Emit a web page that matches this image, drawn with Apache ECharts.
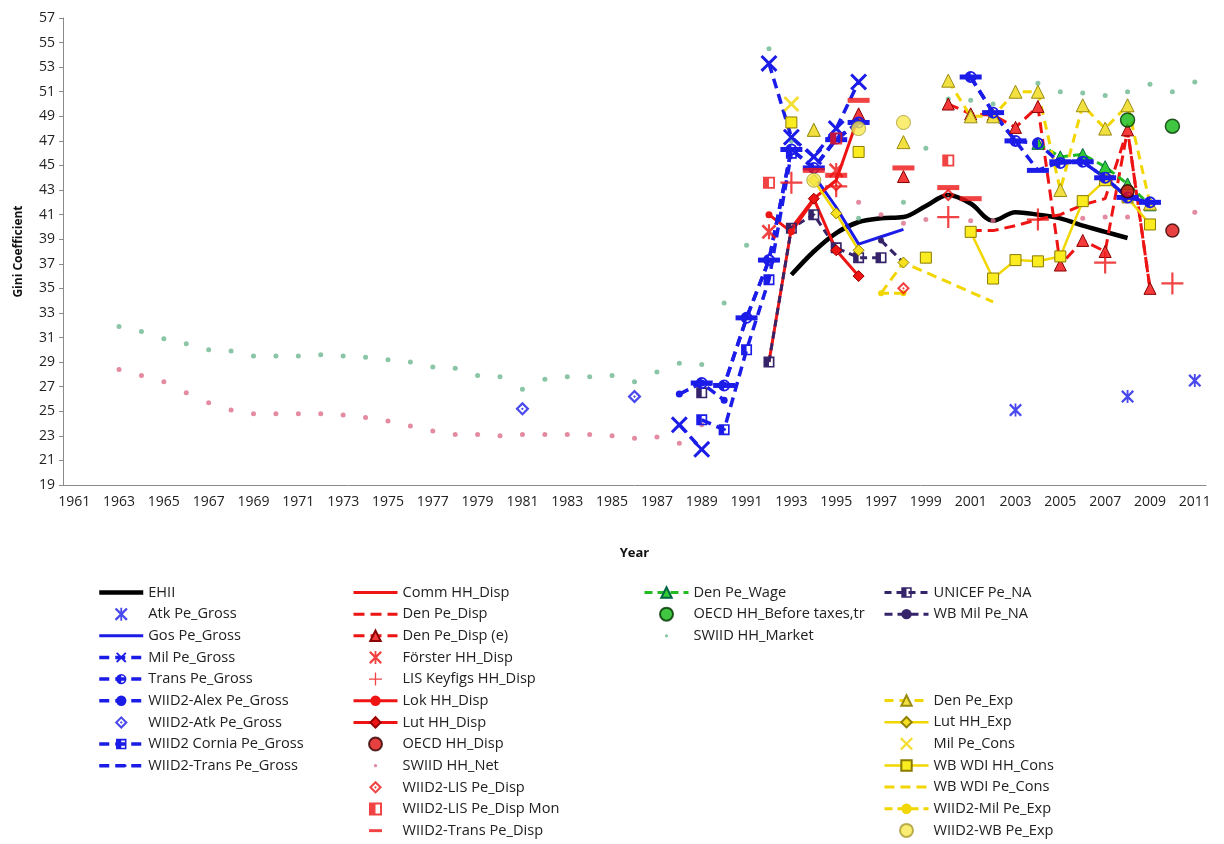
<!DOCTYPE html>
<html><head><meta charset="utf-8">
<script src="https://cdn.jsdelivr.net/npm/echarts@6/dist/echarts.min.js"></script>
<style>html,body{margin:0;padding:0;background:#fff}#c{width:1224px;height:844px}</style>
</head><body><div id="c"></div>
<script>
// ---------- categories & tick labels ----------
const years = ['1961','1962','1963','1964','1965','1966','1967','1968','1969','1970','1971','1972','1973','1974','1975','1976','1977','1978','1979','1980','1981','1982','1983','1984','1985','1986','1987','1988','1989','1990','1991','1992','1993','1994','1995','1996','1997','1998','1999','2000','2001','2002','2003','2004','2005','2006','2007','2008','2009','2010','2011'];
const yTicks = [19,21,23,25,27,29,31,33,35,37,39,41,43,45,47,49,51,53,55,57];

// ---------- series values ([year, Gini]) ----------
const ehii = [[1993,36.1],[1994,38.0],[1995,39.5],[1996,40.4],[1997,40.7],[1998,40.8],[1999,41.7],[2000,42.6],[2001,41.9],[2002,40.5],[2003,41.2],[2004,41.0],[2005,40.7],[2006,40.1],[2007,39.6],[2008,39.1]];
const atkGross = [[2003,25.1],[2008,26.2],[2011,27.5]];
const gosGross = [[1994,44.2],[1995,41.6],[1996,38.6],[1997,39.2],[1998,39.8]];
const milGross = [[1988,23.9],[1989,21.9],[1992,53.3],[1993,47.3],[1994,45.7],[1995,48.0],[1996,51.8]];
const transGross = [[1989,27.3],[1990,27.1],[1991,32.6],[1992,37.3],[1993,46.3],[1994,44.8],[1995,47.2],[1996,48.5],[2001,52.2],[2002,49.3],[2003,47.0],[2004,46.8],[2005,45.2],[2006,45.3],[2007,44.0],[2008,42.4],[2009,42.0]];
const wiidAlexGross = [[1988,26.4],[1989,27.3],[1990,25.9]];
const wiidAtkGross = [[1981,25.2],[1986,26.2]];
const wiidCorniaGross = [[1989,24.3],[1990,23.5],[1991,30.0],[1992,35.7],[1993,46.0]];
const wiidTransGross = [[1989,27.3],[1990,27.1],[1991,32.6],[1992,37.3],[1993,46.3],[1994,44.8],[1995,47.1],[1996,48.5],[2001,52.2],[2002,49.3],[2003,47.0],[2004,44.6],[2005,45.3],[2006,45.3],[2007,44.0],[2008,42.4],[2009,42.0]];
const commDisp = [[1992,29.0],[1993,39.9],[1994,42.3],[1995,43.8],[1996,49.0]];
const denDisp = [[2001,39.7],[2002,39.7],[2003,40.1],[2004,40.6],[2005,41.0],[2006,41.8],[2007,42.3],[2008,47.9],[2009,35.0]];
const denDispE = [[1996,49.2],[1998,44.1],[2000,50.0],[2001,49.2],[2002,49.1],[2003,48.1],[2004,49.8],[2005,36.9],[2006,38.9],[2007,38.0],[2008,47.9],[2009,35.0]];
const forster = [[1992,39.6],[1995,44.6]];
const lisKeyfigs = [[1993,43.6],[1995,43.3],[2000,40.8],[2004,40.6],[2007,37.1],[2010,35.4]];
const lokDisp = [[1992,41.0],[1993,39.6],[1994,42.2]];
const lutDisp = [[1994,42.3],[1995,38.1],[1996,36.0]];
const oecdDisp = [[2008,42.9],[2010,39.7]];
const swiidNet = [[1963,28.4],[1964,27.9],[1965,27.4],[1966,26.5],[1967,25.7],[1968,25.1],[1969,24.8],[1970,24.8],[1971,24.8],[1972,24.8],[1973,24.7],[1974,24.5],[1975,24.2],[1976,23.8],[1977,23.4],[1978,23.1],[1979,23.1],[1980,23.0],[1981,23.1],[1982,23.1],[1983,23.1],[1984,23.1],[1985,23.0],[1986,22.8],[1987,22.9],[1988,22.4],[1989,23.9],[1996,42.0],[1997,41.0],[1998,40.3],[1999,40.6],[2001,40.5],[2002,40.5],[2006,40.7],[2007,40.8],[2008,40.8],[2011,41.2]];
const wiidLisDisp = [[1995,43.4],[1998,35.0],[2000,42.6]];
const wiidLisDispMon = [[1992,43.6],[1995,47.2],[2000,45.4]];
const wiidTransDisp = [[1994,44.6],[1995,44.2],[1996,50.3],[1998,44.8],[2000,43.2],[2001,42.3]];
const denWage = [[1994,47.9],[2004,46.8],[2005,45.7],[2006,45.9],[2007,44.9],[2008,43.5],[2009,41.8]];
const oecdBefore = [[2008,48.7],[2010,48.2]];
const swiidMarket = [[1963,31.9],[1964,31.5],[1965,30.9],[1966,30.5],[1967,30.0],[1968,29.9],[1969,29.5],[1970,29.5],[1971,29.5],[1972,29.6],[1973,29.5],[1974,29.4],[1975,29.2],[1976,29.0],[1977,28.6],[1978,28.5],[1979,27.9],[1980,27.8],[1981,26.8],[1982,27.6],[1983,27.8],[1984,27.8],[1985,27.9],[1986,27.4],[1987,28.2],[1988,28.9],[1989,28.8],[1990,33.8],[1991,38.5],[1992,54.5],[1993,47.0],[1996,40.7],[1998,42.0],[1999,46.4],[2000,50.4],[2001,50.3],[2002,50.0],[2003,51.0],[2004,51.7],[2005,51.0],[2006,50.9],[2007,50.7],[2008,51.0],[2009,51.6],[2010,51.0],[2011,51.8]];
const unicefNA = [[1989,26.5],[1992,29.0],[1993,39.9],[1994,41.0],[1995,38.3],[1996,37.5],[1997,37.5]];
const wbMilNA = [[1997,38.9],[1998,37.1]];
const denExp = [[1994,47.9],[1998,46.9],[2000,51.9],[2001,49.0],[2002,49.0],[2003,51.0],[2004,51.0],[2005,43.0],[2006,49.9],[2007,48.0],[2008,49.9],[2009,41.9]];
const lutExp = [[1994,43.8],[1995,41.1],[1996,38.1],[1998,37.1]];
const milCons = [[1993,50.0]];
const wdiHHCons = [[1993,48.5],[1996,46.1],[1999,37.5],[2001,39.6],[2002,35.8],[2003,37.3],[2004,37.2],[2005,37.6],[2006,42.1],[2007,43.8],[2008,42.4],[2009,40.2]];
const wdiPeCons = [[1997,34.6],[1998,37.1],[2002,33.9]];
const wiidMilExp = [[1997,34.6],[1998,34.6]];
const wiidWBExp = [[1994,43.8],[1996,48.0],[1998,48.5]];

// ---------- helpers ----------
function expand(pairs){ const m = {}; pairs.forEach(p => { m[String(p[0])] = p[1]; }); return years.map(y => (y in m) ? m[y] : '-'); }
const FONT = 'Open Sans';
const SYM = {
  x: 'path://M0,2.5L2.5,0L10,7.5L17.5,0L20,2.5L12.5,10L20,17.5L17.5,20L10,12.5L2.5,20L0,17.5L7.5,10Z',
  star: 'path://M0,2.5L2.5,0L10,7.5L17.5,0L20,2.5L12.5,10L20,17.5L17.5,20L10,12.5L2.5,20L0,17.5L7.5,10Z M8.6,0H11.4V20H8.6Z',
  plus: 'path://M9,0H11V9H20V11H11V20H9V11H0V9H9Z',
  halfSq: 'path://M0,0H20V20H0Z M3,3V17H17V3Z M3,3H10V17H3Z',
  halfCirc: 'path://M10,0A10,10 0 0,1 10,20A10,10 0 0,1 10,0Z M10,3A7,7 0 0,0 10,17A7,7 0 0,0 10,3Z M10,17A7,7 0 0,1 10,3Z',
  hollowDia: 'path://M10,0L20,10L10,20L0,10Z M10,4.5L4.5,10L10,15.5L15.5,10Z M10,8L12,10L10,12L8,10Z',
  diamond: 'path://M10,0L20,10L10,20L0,10Z',
  dot: 'path://M0,0M16,16M6,8A2,2 0 1,1 10,8A2,2 0 1,1 6,8Z',
  dash: 'path://M0,0M22,22M0,8.5H22V13.5H0Z'
};
const BLUE = '#1c1ce8', RED = '#ee1414', YEL = '#f2d600', PURP = '#36246a', GRN = '#22bb22';
function mk(name, pairs, o){
  const s = { name: name, data: expand(pairs), type: o.scatter ? 'scatter' : 'line',
    symbol: o.symbol || 'none', symbolSize: o.size || 10, symbolKeepAspect: true,
    itemStyle: o.item || { color: o.color, opacity: o.symbol ? 1 : 0 }, z: o.z || 2, animation: false,
    emphasis: { disabled: true } };
  if (!o.scatter) {
    s.lineStyle = { color: o.color, width: o.width || 3, type: o.dash ? o.dash : 'solid' };
    s.showAllSymbol = true;
    s.connectNulls = !!o.connect;
    if (o.smooth) s.smooth = o.smooth;
  }
  return s;
}
const D = [10, 6];
const series = [
  mk('SWIID HH_Market', swiidMarket, {scatter:true, symbol:SYM.dot, size:20, item:{color:'#6db78f'}}),
  mk('SWIID HH_Net', swiidNet, {scatter:true, symbol:SYM.dot, size:20, item:{color:'#dc6f8a'}}),
  mk('EHII', ehii, {color:'#000', width:4.5, smooth:0.35}),
  mk('Atk Pe_Gross', atkGross, {scatter:true, symbol:SYM.star, size:13, item:{color:BLUE}}),
  mk('Gos Pe_Gross', gosGross, {color:BLUE, width:3}),
  mk('Comm HH_Disp', commDisp, {color:RED, width:3}),
  mk('UNICEF Pe_NA', unicefNA, {color:PURP, width:3, dash:[7,5], symbol:SYM.halfSq, size:11, item:{color:PURP}}),
  mk('WB Mil Pe_NA', wbMilNA, {color:PURP, width:3, dash:[8,5], symbol:'circle', size:6, item:{color:PURP}}),
  mk('Den Pe_Disp', denDisp, {color:RED, width:3, dash:[11,6]}),
  mk('Den Pe_Disp (e)', denDispE, {color:RED, width:3, dash:[11,6], symbol:'triangle', size:12, item:{color:'#f43a3a', borderColor:'#8a0000', borderWidth:1}}),
  mk('Lok HH_Disp', lokDisp, {color:RED, width:3, symbol:'circle', size:7, item:{color:RED}}),
  mk('Lut HH_Disp', lutDisp, {color:RED, width:3, symbol:SYM.diamond, size:11, item:{color:RED, borderColor:'#900', borderWidth:1}}),
  mk('Den Pe_Wage', denWage, {color:GRN, width:3, dash:[8,5], symbol:'triangle', size:12, item:{color:'#3c3', borderColor:'#064', borderWidth:1}}),
  mk('Den Pe_Exp', denExp, {color:YEL, width:3, dash:[9,6], symbol:'triangle', size:13, item:{color:'#f2e040', borderColor:'#9a8a10', borderWidth:1}}),
  mk('Lut HH_Exp', lutExp, {color:YEL, width:2.5, symbol:SYM.diamond, size:11, item:{color:'#f6e020', borderColor:'#8f7f00', borderWidth:1}}),
  mk('WB WDI HH_Cons', wdiHHCons, {color:YEL, width:2.5, symbol:'rect', size:11, item:{color:'#fbec20', borderColor:'#8a7a00', borderWidth:1}}),
  mk('WB WDI Pe_Cons', wdiPeCons, {color:YEL, width:3, dash:[10,6], connect:true}),
  mk('WIID2-Mil Pe_Exp', wiidMilExp, {color:YEL, width:3, dash:[8,5], symbol:'circle', size:6, item:{color:YEL}}),
  mk('Mil Pe_Gross', milGross, {color:BLUE, width:3.5, dash:D, symbol:SYM.x, size:17, item:{color:BLUE}}),
  mk('Trans Pe_Gross', transGross, {color:BLUE, width:3.5, dash:D, symbol:SYM.halfCirc, size:12, item:{color:BLUE}}),
  mk('WIID2-Alex Pe_Gross', wiidAlexGross, {color:BLUE, width:3.5, dash:D, symbol:'circle', size:7, item:{color:BLUE}}),
  mk('WIID2 Cornia Pe_Gross', wiidCorniaGross, {color:BLUE, width:3.5, dash:D, symbol:SYM.halfSq, size:11, item:{color:BLUE}}),
  mk('WIID2-Trans Pe_Gross', wiidTransGross, {color:BLUE, width:3.5, dash:D, symbol:SYM.dash, size:22, item:{color:BLUE}}),
  mk('WIID2-Atk Pe_Gross', wiidAtkGross, {scatter:true, symbol:SYM.hollowDia, size:14, item:{color:BLUE}}),
  mk('Förster HH_Disp', forster, {scatter:true, symbol:SYM.star, size:15, item:{color:RED}}),
  mk('LIS Keyfigs HH_Disp', lisKeyfigs, {scatter:true, symbol:SYM.plus, size:22, item:{color:RED}}),
  mk('WIID2-LIS Pe_Disp', wiidLisDisp, {scatter:true, symbol:SYM.hollowDia, size:13, item:{color:RED}}),
  mk('WIID2-LIS Pe_Disp Mon', wiidLisDispMon, {scatter:true, symbol:SYM.halfSq, size:12, item:{color:RED}}),
  mk('WIID2-Trans Pe_Disp', wiidTransDisp, {scatter:true, symbol:SYM.dash, size:22, item:{color:RED}}),
  mk('OECD HH_Disp', oecdDisp, {scatter:true, symbol:'circle', size:13, item:{color:'#e01010', borderColor:'#300', borderWidth:1.5}}),
  mk('OECD HH_Before taxes,tr', oecdBefore, {scatter:true, symbol:'circle', size:14, item:{color:'#12b812', borderColor:'#030', borderWidth:1.5}}),
  mk('Mil Pe_Cons', milCons, {scatter:true, symbol:SYM.x, size:16, item:{color:YEL}}),
  mk('WIID2-WB Pe_Exp', wiidWBExp, {scatter:true, symbol:'circle', size:14, item:{color:'#f7ea50', borderColor:'#a89a30', borderWidth:1}})
];

const legBase = { orient:'vertical', itemWidth:44, itemHeight:13, itemGap:6.65, selectedMode:false,
  lineStyle:{ width:'inherit' },
  textStyle:{ fontFamily:FONT, fontSize:14.6, color:'#222' }, padding:0 };
const col1 = ['EHII','Atk Pe_Gross','Gos Pe_Gross','Mil Pe_Gross','Trans Pe_Gross','WIID2-Alex Pe_Gross','WIID2-Atk Pe_Gross','WIID2 Cornia Pe_Gross','WIID2-Trans Pe_Gross'];
const col2 = ['Comm HH_Disp','Den Pe_Disp','Den Pe_Disp (e)','Förster HH_Disp','LIS Keyfigs HH_Disp','Lok HH_Disp','Lut HH_Disp','OECD HH_Disp','SWIID HH_Net','WIID2-LIS Pe_Disp','WIID2-LIS Pe_Disp Mon','WIID2-Trans Pe_Disp'];
const col3 = ['Den Pe_Wage','OECD HH_Before taxes,tr','SWIID HH_Market'];
const col4a = ['UNICEF Pe_NA','WB Mil Pe_NA'];
const col4b = ['Den Pe_Exp','Lut HH_Exp','Mil Pe_Cons','WB WDI HH_Cons','WB WDI Pe_Cons','WIID2-Mil Pe_Exp','WIID2-WB Pe_Exp'];

const option = {
  backgroundColor:'#fff',
  animation:false,
  grid:{ left:63, right:18, top:18, bottom:359, containLabel:false },
  xAxis:{ type:'category', data:years, boundaryGap:true,
    axisLine:{ lineStyle:{ color:'#8a8a8a' } },
    axisTick:{ interval:1, length:5, lineStyle:{ color:'#8a8a8a' } },
    axisLabel:{ interval:1, color:'#222', fontSize:14, fontFamily:FONT, margin:10 },
    name:'Year', nameLocation:'middle', nameGap:62,
    nameTextStyle:{ fontWeight:'bold', fontSize:13, color:'#111', fontFamily:FONT } },
  yAxis:{ type:'value', min:19, max:57,
    axisLine:{ show:true, lineStyle:{ color:'#8a8a8a' } },
    axisTick:{ show:true, length:4, customValues:yTicks, lineStyle:{ color:'#8a8a8a' } },
    axisLabel:{ customValues:yTicks, color:'#222', fontSize:14, fontFamily:FONT, margin:8 },
    splitLine:{ show:false },
    name:'Gini Coefficient', nameLocation:'middle', nameGap:38, nameRotate:90,
    nameTextStyle:{ fontWeight:'bold', fontSize:12, color:'#111', fontFamily:FONT } },
  legend:[
    Object.assign({}, legBase, { left:97, top:585, data:col1 }),
    Object.assign({}, legBase, { left:352, top:585, data:col2 }),
    Object.assign({}, legBase, { left:643, top:585, data:col3 }),
    Object.assign({}, legBase, { left:883, top:585, data:col4a }),
    Object.assign({}, legBase, { left:883, top:693, data:col4b })
  ],
  series: series
};
const chart = echarts.init(document.getElementById('c'), null, { renderer:'canvas' });
chart.setOption(option);
</script>
</body></html>
